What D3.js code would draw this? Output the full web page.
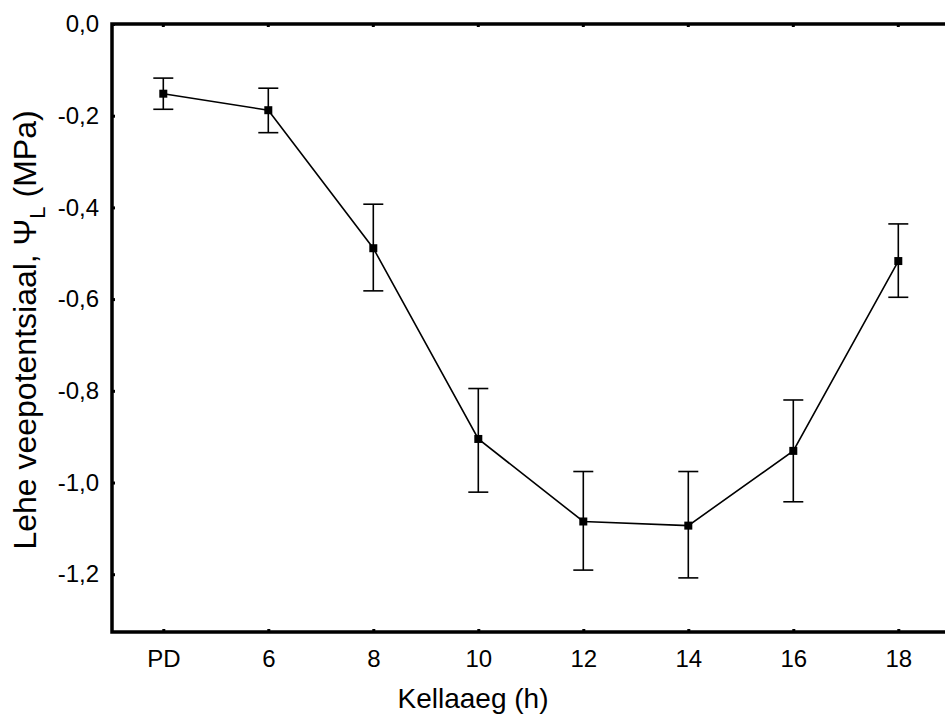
<!DOCTYPE html>
<html lang="et">
<head>
<meta charset="utf-8">
<title>Lehe veepotentsiaal</title>
<script src="https://d3js.org/d3.v7.min.js"></script>
<style>
  body { margin: 0; background: #fff; }
  text { font-family: Arial, "Liberation Sans", sans-serif; fill: #000; }
</style>
</head>
<body>
<svg id="chart"></svg>
<script>
// data
const categories = ['PD', '6', '8', '10', '12', '14', '16', '18'];
const meanValues = [-0.152, -0.188, -0.489, -0.905, -1.085, -1.094, -0.931, -0.517];
const upperValues = [-0.118, -0.140, -0.393, -0.795, -0.976, -0.976, -0.820, -0.436];
const lowerValues = [-0.186, -0.237, -0.582, -1.021, -1.191, -1.208, -1.042, -0.596];
const yTicks = [0, -0.2, -0.4, -0.6, -0.8, -1.0, -1.2];

const width = 945, height = 718;
const plotLeft = 112, plotTop = 24, plotBottom = 632, plotRight = 960;

const svg = d3.select('#chart')
  .attr('width', width)
  .attr('height', height);

const x = d3.scalePoint()
  .domain(categories)
  .range([163.3, 898.3]);

const y = d3.scaleLinear()
  .domain([-1.326, 0])
  .range([plotBottom, plotTop]);

const fmt = d => d3.format('.1f')(d).replace('.', ',').replace('−', '-');

// y axis (ticks inward)
const yAxis = svg.append('g')
  .attr('transform', 'translate(' + plotLeft + ',0)')
  .call(d3.axisLeft(y).tickValues(yTicks).tickSize(-3).tickPadding(13).tickFormat(fmt));
yAxis.select('.domain').remove();
yAxis.selectAll('line').attr('stroke', '#000').attr('stroke-width', 3);
yAxis.selectAll('text').style('font-size', '24px');

// x axis (ticks inward)
const xAxis = svg.append('g')
  .attr('transform', 'translate(0,' + plotBottom + ')')
  .call(d3.axisBottom(x).tickSize(-3).tickPadding(18));
xAxis.select('.domain').remove();
xAxis.selectAll('line').attr('stroke', '#000').attr('stroke-width', 3);
xAxis.selectAll('text').style('font-size', '24px');

// top ticks
svg.append('g')
  .selectAll('line')
  .data(categories)
  .join('line')
  .attr('x1', d => x(d)).attr('x2', d => x(d))
  .attr('y1', plotTop).attr('y2', plotTop + 3)
  .attr('stroke', '#000').attr('stroke-width', 3);

// frame: left, top, bottom
svg.append('path')
  .attr('d', 'M' + plotRight + ',' + plotTop + 'H' + plotLeft + 'V' + plotBottom + 'H' + plotRight)
  .attr('fill', 'none')
  .attr('stroke', '#000')
  .attr('stroke-width', 3.5);

// error bars
const eb = svg.append('g').attr('stroke', '#000').attr('stroke-width', 1.6);
categories.forEach((c, i) => {
  const cx = x(c);
  eb.append('line').attr('x1', cx).attr('x2', cx).attr('y1', y(upperValues[i])).attr('y2', y(lowerValues[i]));
  eb.append('line').attr('x1', cx - 10).attr('x2', cx + 10).attr('y1', y(upperValues[i])).attr('y2', y(upperValues[i]));
  eb.append('line').attr('x1', cx - 10).attr('x2', cx + 10).attr('y1', y(lowerValues[i])).attr('y2', y(lowerValues[i]));
});

// mean line
const line = d3.line()
  .x((d, i) => x(categories[i]))
  .y(d => y(d));
svg.append('path')
  .datum(meanValues)
  .attr('d', line)
  .attr('fill', 'none')
  .attr('stroke', '#000')
  .attr('stroke-width', 1.6);

// markers
svg.append('g')
  .selectAll('rect')
  .data(meanValues)
  .join('rect')
  .attr('x', (d, i) => x(categories[i]) - 4)
  .attr('y', d => y(d) - 4)
  .attr('width', 8)
  .attr('height', 8)
  .attr('fill', '#000');

// axis titles
svg.append('text')
  .attr('x', 473)
  .attr('y', 708)
  .attr('text-anchor', 'middle')
  .style('font-size', '28px')
  .text('Kellaaeg (h)');

const yt = svg.append('text')
  .attr('transform', 'translate(36,330) rotate(-90)')
  .attr('text-anchor', 'middle')
  .style('font-size', '32px');
yt.append('tspan').text('Lehe veepotentsiaal,  \u03A8');
yt.append('tspan').attr('dy', 9).style('font-size', '22px').text('L');
yt.append('tspan').attr('dy', -9).text(' (MPa)');
</script>
</body>
</html>
